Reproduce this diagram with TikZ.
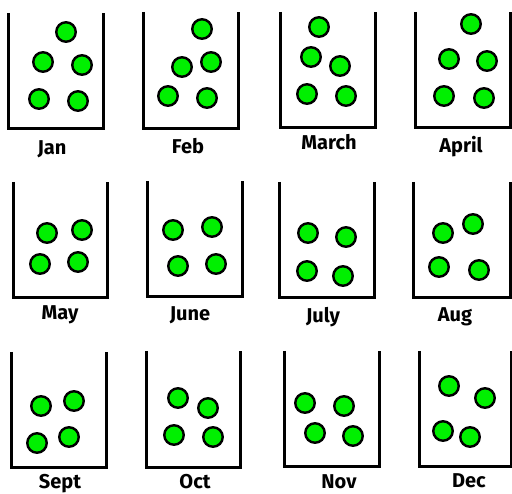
\documentclass[tikz,border=0pt]{standalone}
\usepackage{fontspec}
\setmainfont{Fira Sans}
\definecolor{ballgreen}{RGB}{0,240,0}
\tikzset{
  cupline/.style={line width=3pt, line join=miter, line cap=butt},
  ball/.style={circle, draw=black, line width=2.4pt, fill=ballgreen, minimum size=19.5pt, inner sep=0pt},
  month/.style={anchor=base, font=\fontsize{20}{24}\selectfont\bfseries, inner sep=0pt}
}
\begin{document}
\begin{tikzpicture}[x=1pt, y=-1pt]
\useasboundingbox (0,0) rectangle (512,494);
% cups
\draw[cupline] (8,13) -- (8,129) -- (103,129) -- (103,13);
\draw[cupline] (143,12) -- (143,129) -- (238,129) -- (238,12);
\draw[cupline] (280,12) -- (280,128) -- (375,128) -- (375,12);
\draw[cupline] (415,12) -- (415,128) -- (510,128) -- (510,12);
\draw[cupline] (13,182) -- (13,298) -- (107,298) -- (107,182);
\draw[cupline] (147,181) -- (147,297) -- (242,297) -- (242,181);
\draw[cupline] (279,182) -- (279,298) -- (374,298) -- (374,182);
\draw[cupline] (413,182) -- (413,298) -- (510,298) -- (510,182);
\draw[cupline] (11,352) -- (11,468) -- (106,468) -- (106,352);
\draw[cupline] (146,351) -- (146,468) -- (240,468) -- (240,351);
\draw[cupline] (284,351) -- (284,467) -- (379,467) -- (379,351);
\draw[cupline] (419,351) -- (419,467) -- (511,467) -- (511,351);
% Jan
\node[ball] (ja1) at (66,32) {};
\node[ball] (ja2) at (43,62) {};
\node[ball] (ja3) at (82,65) {};
\node[ball] (ja4) at (39,99) {};
\node[ball] (ja5) at (78,101) {};
% Feb
\node[ball] (fe1) at (202,29) {};
\node[ball] (fe2) at (182,67) {};
\node[ball] (fe3) at (211,62) {};
\node[ball] (fe4) at (168,96) {};
\node[ball] (fe5) at (207,98) {};
% March
\node[ball] (mr1) at (319,27) {};
\node[ball] (mr2) at (311,57) {};
\node[ball] (mr3) at (340,66) {};
\node[ball] (mr4) at (307,94) {};
\node[ball] (mr5) at (346,96) {};
% April
\node[ball] (ap1) at (471,24) {};
\node[ball] (ap2) at (449,59) {};
\node[ball] (ap3) at (487,61) {};
\node[ball] (ap4) at (444,96) {};
\node[ball] (ap5) at (484,98) {};
% May
\node[ball] (ma1) at (47,233) {};
\node[ball] (ma2) at (82,230) {};
\node[ball] (ma3) at (40,264) {};
\node[ball] (ma4) at (78,262) {};
% June
\node[ball] (jn1) at (173,230) {};
\node[ball] (jn2) at (212,227) {};
\node[ball] (jn3) at (178,266) {};
\node[ball] (jn4) at (216,264) {};
% July
\node[ball] (jl1) at (308,233) {};
\node[ball] (jl2) at (346,237) {};
\node[ball] (jl3) at (307,271) {};
\node[ball] (jl4) at (343,276) {};
% Aug
\node[ball] (au1) at (443,233) {};
\node[ball] (au2) at (473,224) {};
\node[ball] (au3) at (439,267) {};
\node[ball] (au4) at (479,270) {};
% Sept
\node[ball] (se1) at (41,406) {};
\node[ball] (se2) at (74,401) {};
\node[ball] (se3) at (37,443) {};
\node[ball] (se4) at (69,437) {};
% Oct
\node[ball] (oc1) at (178,398) {};
\node[ball] (oc2) at (208,408) {};
\node[ball] (oc3) at (174,435) {};
\node[ball] (oc4) at (213,437) {};
% Nov
\node[ball] (no1) at (305,403) {};
\node[ball] (no2) at (344,406) {};
\node[ball] (no3) at (315,433) {};
\node[ball] (no4) at (353,436) {};
% Dec
\node[ball] (de1) at (449,386) {};
\node[ball] (de2) at (485,398) {};
\node[ball] (de3) at (443,431) {};
\node[ball] (de4) at (470,437) {};
% labels
\node[month] (lJan) at (52,155) {Jan};
\node[month] (lFeb) at (188,154) {Feb};
\node[month] (lMar) at (329,150) {March};
\node[month] (lApr) at (461,153) {April};
\node[month] (lMay) at (60,320) {May};
\node[month] (lJun) at (190,321) {June};
\node[month] (lJul) at (323,323) {July};
\node[month] (lAug) at (455,322) {Aug};
\node[month] (lSep) at (60,489) {Sept};
\node[month] (lOct) at (195,489) {Oct};
\node[month] (lNov) at (339,489) {Nov};
\node[month] (lDec) at (469,488) {Dec};
\end{tikzpicture}
\end{document}
